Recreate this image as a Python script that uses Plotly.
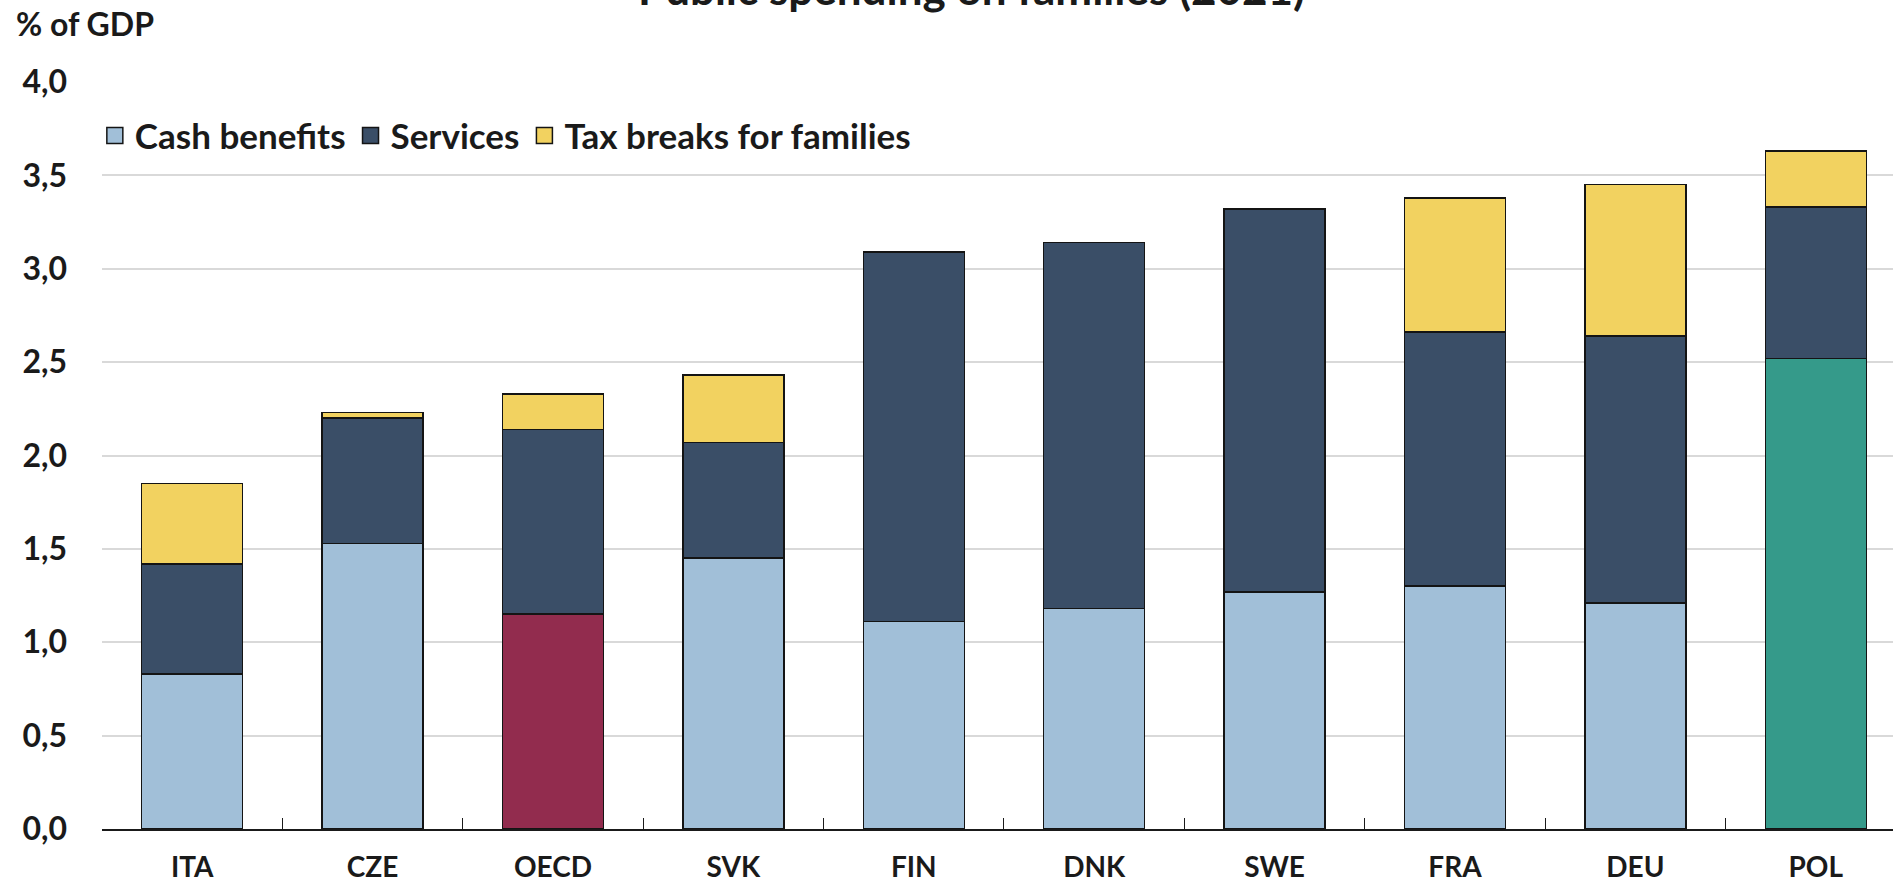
import plotly.graph_objects as go

# Public spending on families, % of GDP
countries = ["ITA", "CZE", "OECD", "SVK", "FIN", "DNK", "SWE", "FRA", "DEU", "POL"]
cash_benefits = [0.83, 1.53, 1.15, 1.45, 1.11, 1.18, 1.27, 1.30, 1.21, 2.52]
services = [0.59, 0.67, 0.99, 0.62, 1.98, 1.96, 2.05, 1.36, 1.43, 0.81]
tax_breaks = [0.43, 0.03, 0.19, 0.36, 0.00, 0.00, 0.00, 0.72, 0.81, 0.30]
series_names = ["Cash benefits", "Services", "Tax breaks for families"]
y_ticks = [0.0, 0.5, 1.0, 1.5, 2.0, 2.5, 3.0, 3.5, 4.0]
y_tick_labels = ["0,0", "0,5", "1,0", "1,5", "2,0", "2,5", "3,0", "3,5", "4,0"]

CASH = "#A1BFD8"
SERV = "#3A4E67"
TAX = "#F2D260"
HIGHLIGHT = {"OECD": "#922C4E", "POL": "#359A8A"}
INK = "#1a1a1a"

FONT = "Lato, 'Open Sans', sans-serif"
outline = dict(color="#141414", width=1.5)

cash_colors = [HIGHLIGHT.get(c, CASH) for c in countries]

fig = go.Figure()
for name, vals, colors in zip(series_names,
                              [cash_benefits, services, tax_breaks],
                              [cash_colors, SERV, TAX]):
    fig.add_trace(go.Bar(x=countries, y=vals, name=name, showlegend=False,
                         marker=dict(color=colors, line=outline)))

# larger square swatches for the legend
for name, col in zip(series_names, [CASH, SERV, TAX]):
    fig.add_trace(go.Scatter(x=[None], y=[None], mode="markers", name=name,
                             marker=dict(symbol="square", size=16, color=col,
                                         line=dict(color="#141414", width=1.5))))

fig.update_layout(
    width=1893, height=883,
    barmode="stack", bargap=0.44,
    plot_bgcolor="white", paper_bgcolor="white",
    margin=dict(l=102, r=0, t=82, b=54),
    font=dict(family=FONT, color=INK, size=28),
    showlegend=True,
    legend=dict(orientation="h", x=-0.004, xanchor="left", y=0.928, yanchor="middle",
                font=dict(family=FONT, size=35, weight="bold", color=INK),
                traceorder="normal", itemsizing="trace",
                bgcolor="rgba(0,0,0,0)", itemwidth=30),
    annotations=[
        dict(text="<b>% of GDP</b>", xref="paper", yref="paper", x=-0.049, y=1.0,
             xanchor="left", yanchor="middle", yshift=59, showarrow=False,
             font=dict(family=FONT, size=32, color=INK)),
        dict(text="<b>Public spending on families (2021)</b>", xref="paper", yref="paper",
             x=0.4857, y=1.0, xanchor="center", yanchor="bottom", yshift=66,
             showarrow=False, font=dict(family=FONT, size=44, color=INK)),
    ],
)

fig.update_xaxes(
    range=[-0.5, 9.428], automargin=False,
    showline=True, linecolor=INK, linewidth=2,
    ticks="inside", tickson="boundaries", ticklen=11, tickcolor=INK, tickwidth=1,
    tickfont=dict(family=FONT, size=28, weight="bold", color=INK),
    ticklabelstandoff=12,
    showgrid=False,
)
fig.update_yaxes(
    range=[0, 4.0], automargin=False,
    tickvals=y_ticks, ticktext=y_tick_labels,
    tickfont=dict(family=FONT, size=32, weight="bold", color=INK),
    showgrid=True, gridcolor="#d9d9d9", gridwidth=1.5,
    zeroline=False, showline=False, ticks="",
    ticklabelstandoff=34,
)

fig.write_html("out.html")
